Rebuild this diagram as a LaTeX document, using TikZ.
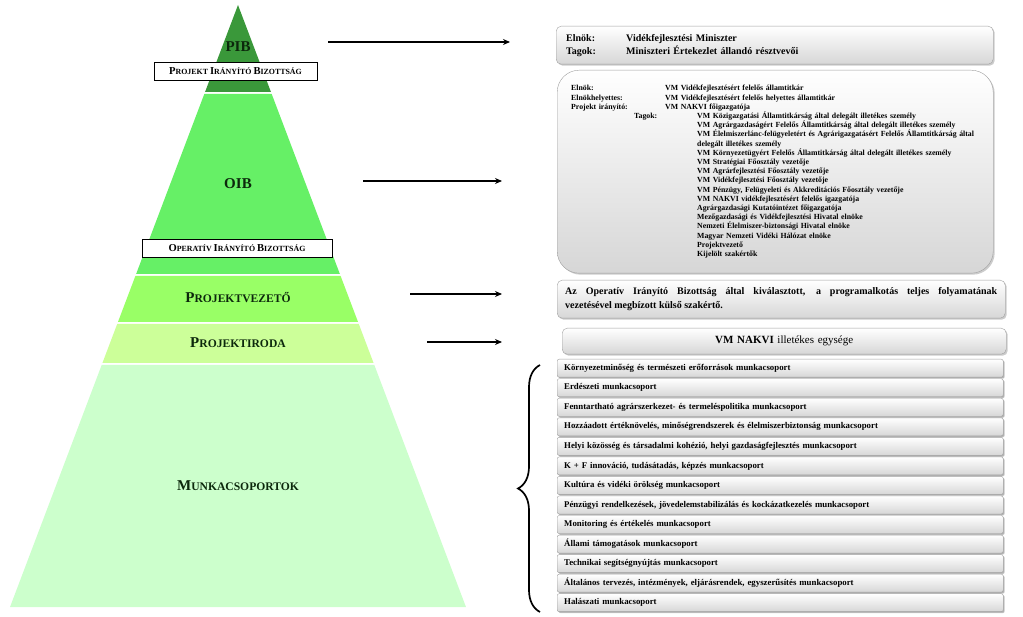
\documentclass[tikz,border=0pt]{standalone}
\usepackage{fontspec}
\setmainfont{Liberation Serif}
\usetikzlibrary{arrows.meta,shadows,decorations.pathreplacing}

\definecolor{pibzold}{RGB}{58,152,58}
\definecolor{oibzold}{RGB}{102,240,102}
\definecolor{pvzold}{RGB}{153,255,102}
\definecolor{pizold}{RGB}{204,255,153}
\definecolor{mcszold}{RGB}{204,255,204}
\definecolor{cimszin}{RGB}{12,40,12}

\newcommand{\nagy}{9.5}
\newcommand{\kicsi}{7}
\newcommand{\kiskap}[2]{{\fontsize{\nagy}{\nagy}\selectfont #1}{\fontsize{\kicsi}{\kicsi}\selectfont #2}}

\tikzset{
  cimke/.style={text=cimszin,inner sep=1pt},
  keret/.style={draw=black,fill=white,minimum height=18pt,inner sep=0pt,
    font={\bfseries\def\nagy{10.6}\def\kicsi{7.9}\fontsize{7.9}{7.9}\selectfont}},
  szint/.style={cimke,font={\bfseries\def\nagy{15}\def\kicsi{11.6}\fontsize{11.6}{11.6}\selectfont}},
  nyil/.style={-{Stealth[length=7pt,width=6pt]},line width=1.6pt},
  doboz/.style={draw=gray!75,rounded corners=5pt,top color=white,bottom color=gray!32,
    drop shadow={shadow xshift=1.5pt,shadow yshift=-1.5pt,fill=gray!80},
    anchor=north west,inner ysep=0pt},
  lista/.style={doboz,rounded corners=2pt,minimum width=446pt,minimum height=18pt,
    text width=432pt,inner xsep=7pt,align=left,
    drop shadow={shadow xshift=1pt,shadow yshift=-1pt,fill=gray!80},
    font=\bfseries\fontsize{8.8}{9}\selectfont},
  kapocs/.style={decorate,decoration={brace,amplitude=22pt},line width=1.7pt}
}

\begin{document}
\begin{tikzpicture}[x=1pt,y=-1pt]
  \useasboundingbox (0,0) rectangle (1023,617);

  % piramis
  \foreach \yt/\yb/\szin in {5/92/pibzold,94/274/oibzold,276/322/pvzold,324/363/pizold,365/607/mcszold}{
    \pgfmathsetmacro\wt{(\yt-5)*0.3787}
    \pgfmathsetmacro\wb{(\yb-5)*0.3787}
    \fill[\szin] (238-\wt,\yt) -- (238+\wt,\yt) -- (238+\wb,\yb) -- (238-\wb,\yb) -- cycle;
  }

  \node[cimke,font=\bfseries\fontsize{15}{15}\selectfont] (pib) at (238,47) {PIB};
  \node[keret,minimum width=163pt] (pibnev) at (235.5,71) {\kiskap{P}{ROJEKT} \kiskap{I}{RÁNYÍTÓ} \kiskap{B}{IZOTTSÁG}};
  \node[cimke,font=\bfseries\fontsize{15}{15}\selectfont] (oib) at (238,184) {OIB};
  \node[keret,minimum width=190pt] (oibnev) at (237,248) {\kiskap{O}{PERATÍV} \kiskap{I}{RÁNYÍTÓ} \kiskap{B}{IZOTTSÁG}};
  \node[szint] (pv) at (238,298) {\kiskap{P}{ROJEKTVEZETŐ}};
  \node[szint] (pi) at (238,343) {\kiskap{P}{ROJEKTIRODA}};
  \node[szint] (mcs) at (238,486) {\kiskap{M}{UNKACSOPORTOK}};

  % nyilak
  \coordinate (pibki) at (328,42);  \coordinate (pibbe) at (510,42);
  \coordinate (oibki) at (363,181); \coordinate (oibbe) at (502,181);
  \coordinate (pvki)  at (410,294); \coordinate (pvbe)  at (502,294);
  \coordinate (piki)  at (427,342); \coordinate (pibe)  at (502,342);
  \draw[nyil] (pibki) -- (pibbe);
  \draw[nyil] (oibki) -- (oibbe);
  \draw[nyil] (pvki) -- (pvbe);
  \draw[nyil] (piki) -- (pibe);

  % dobozok
  \node[doboz,minimum width=437pt,minimum height=38pt,text width=417pt,inner xsep=10pt,align=left,
    font=\bfseries\fontsize{10}{13}\selectfont] (pibdoboz) at (556,26)
    {\makebox[60pt][l]{Elnök:}Vidékfejlesztési Miniszter\\
     \makebox[60pt][l]{Tagok:}Miniszteri Értekezlet állandó résztvevői};

  \node[doboz,rounded corners=22pt,minimum width=436pt,minimum height=203pt,text width=408pt,inner xsep=14pt,
    font=\bfseries\fontsize{7.8}{9.2}\selectfont] (oibdoboz) at (557,70)
    {\hyphenpenalty=10000
     \makebox[94pt][l]{Elnök:}VM Vidékfejlesztésért felelős államtitkár\\
     \makebox[94pt][l]{Elnökhelyettes:}VM Vidékfejlesztésért felelős helyettes államtitkár\\
     \makebox[94pt][l]{Projekt irányító:}VM NAKVI főigazgatója\\
     \hspace*{63pt}\makebox[63pt][l]{Tagok:}\parbox[t]{284pt}{\hyphenpenalty=10000
       VM Közigazgatási Államtitkárság által delegált illetékes személy\\
       VM Agrárgazdaságért Felelős Államtitkárság által delegált illetékes személy\\
       VM Élelmiszerlánc-felügyeletért és Agrárigazgatásért Felelős Államtitkárság által delegált illetékes személy\\
       VM Környezetügyért Felelős Államtitkárság által delegált illetékes személy\\
       VM Stratégiai Főosztály vezetője\\
       VM Agrárfejlesztési Főosztály vezetője\\
       VM Vidékfejlesztési Főosztály vezetője\\
       VM Pénzügy, Felügyeleti és Akkreditációs Főosztály vezetője\\
       VM NAKVI vidékfejlesztésért felelős igazgatója\\
       Agrárgazdasági Kutatóintézet főigazgatója\\
       Mezőgazdasági és Vidékfejlesztési Hivatal elnöke\\
       Nemzeti Élelmiszer-biztonsági Hivatal elnöke\\
       Magyar Nemzeti Vidéki Hálózat elnöke\\
       Projektvezető\\
       Kijelölt szakértők}};

  \node[doboz,minimum width=448pt,minimum height=38pt,text width=432pt,inner xsep=8pt,align=justify,
    font=\bfseries\fontsize{10}{13.5}\selectfont] (pvdoboz) at (557,280)
    {\rightskip=12pt \hyphenpenalty=10000 Az Operatív Irányító Bizottság által kiválasztott, a programalkotás teljes folyamatának\linebreak vezetésével megbízott külső szakértő.};

  \node[doboz,minimum width=444pt,minimum height=26pt,text width=428pt,inner xsep=8pt,align=center,
    font=\fontsize{11}{12}\selectfont] (pidoboz) at (562,328)
    {\textbf{VM NAKVI} illetékes egysége};

  % munkacsoportok
  \foreach \txt [count=\i from 0] in {
    {Környezetminőség és természeti erőforrások munkacsoport},
    {Erdészeti munkacsoport},
    {Fenntartható agrárszerkezet- és termeléspolitika munkacsoport},
    {Hozzáadott értéknövelés, minőségrendszerek és élelmiszerbiztonság munkacsoport},
    {Helyi közösség és társadalmi kohézió, helyi gazdaságfejlesztés munkacsoport},
    {K + F innováció, tudásátadás, képzés munkacsoport},
    {Kultúra és vidéki örökség munkacsoport},
    {Pénzügyi rendelkezések, jövedelemstabilizálás és kockázatkezelés munkacsoport},
    {Monitoring és értékelés munkacsoport},
    {Állami támogatások munkacsoport},
    {Technikai segítségnyújtás munkacsoport},
    {Általános tervezés, intézmények, eljárásrendek, egyszerűsítés munkacsoport},
    {Halászati munkacsoport}}
    \node[lista] (mcs\i) at (557,359+\i*19.54) {\txt};

  \coordinate (kapalj) at (540,612);
  \coordinate (kapfel) at (540,365);
  \draw[kapocs] (kapalj) -- (kapfel);

\end{tikzpicture}
\end{document}
